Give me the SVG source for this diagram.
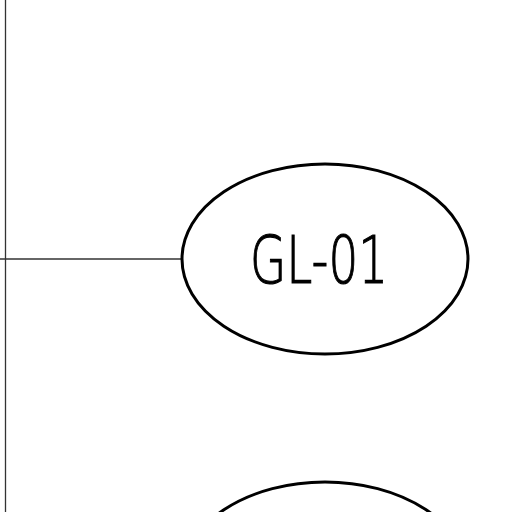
<svg xmlns="http://www.w3.org/2000/svg" width="512" height="512" viewBox="0 0 512 512">
<style>
.node{fill:#fff;stroke:#000;stroke-width:3}
.conn{stroke:#333;stroke-width:1.3;fill:none}
.lbl{font-family:"DejaVu Sans","Liberation Sans",sans-serif;font-size:66px;font-weight:200;fill:#000;stroke:#000;stroke-width:1.1}
</style>
<rect width="512" height="512" fill="#fff"/>
<g id="connectors">
<line class="conn" x1="5.5" y1="0" x2="5.5" y2="512" stroke-width="1.6" stroke="#555"/>
<line class="conn" x1="0" y1="259" x2="182" y2="259"/>
</g>
<g id="node-GL-01">
<ellipse class="node" cx="325" cy="259" rx="143" ry="95"/>
<text class="lbl" x="319" y="283" text-anchor="middle" textLength="138" lengthAdjust="spacingAndGlyphs">GL-01</text>
</g>
<g id="node-next">
<ellipse class="node" cx="325" cy="577" rx="143" ry="95"/>
</g>
</svg>
